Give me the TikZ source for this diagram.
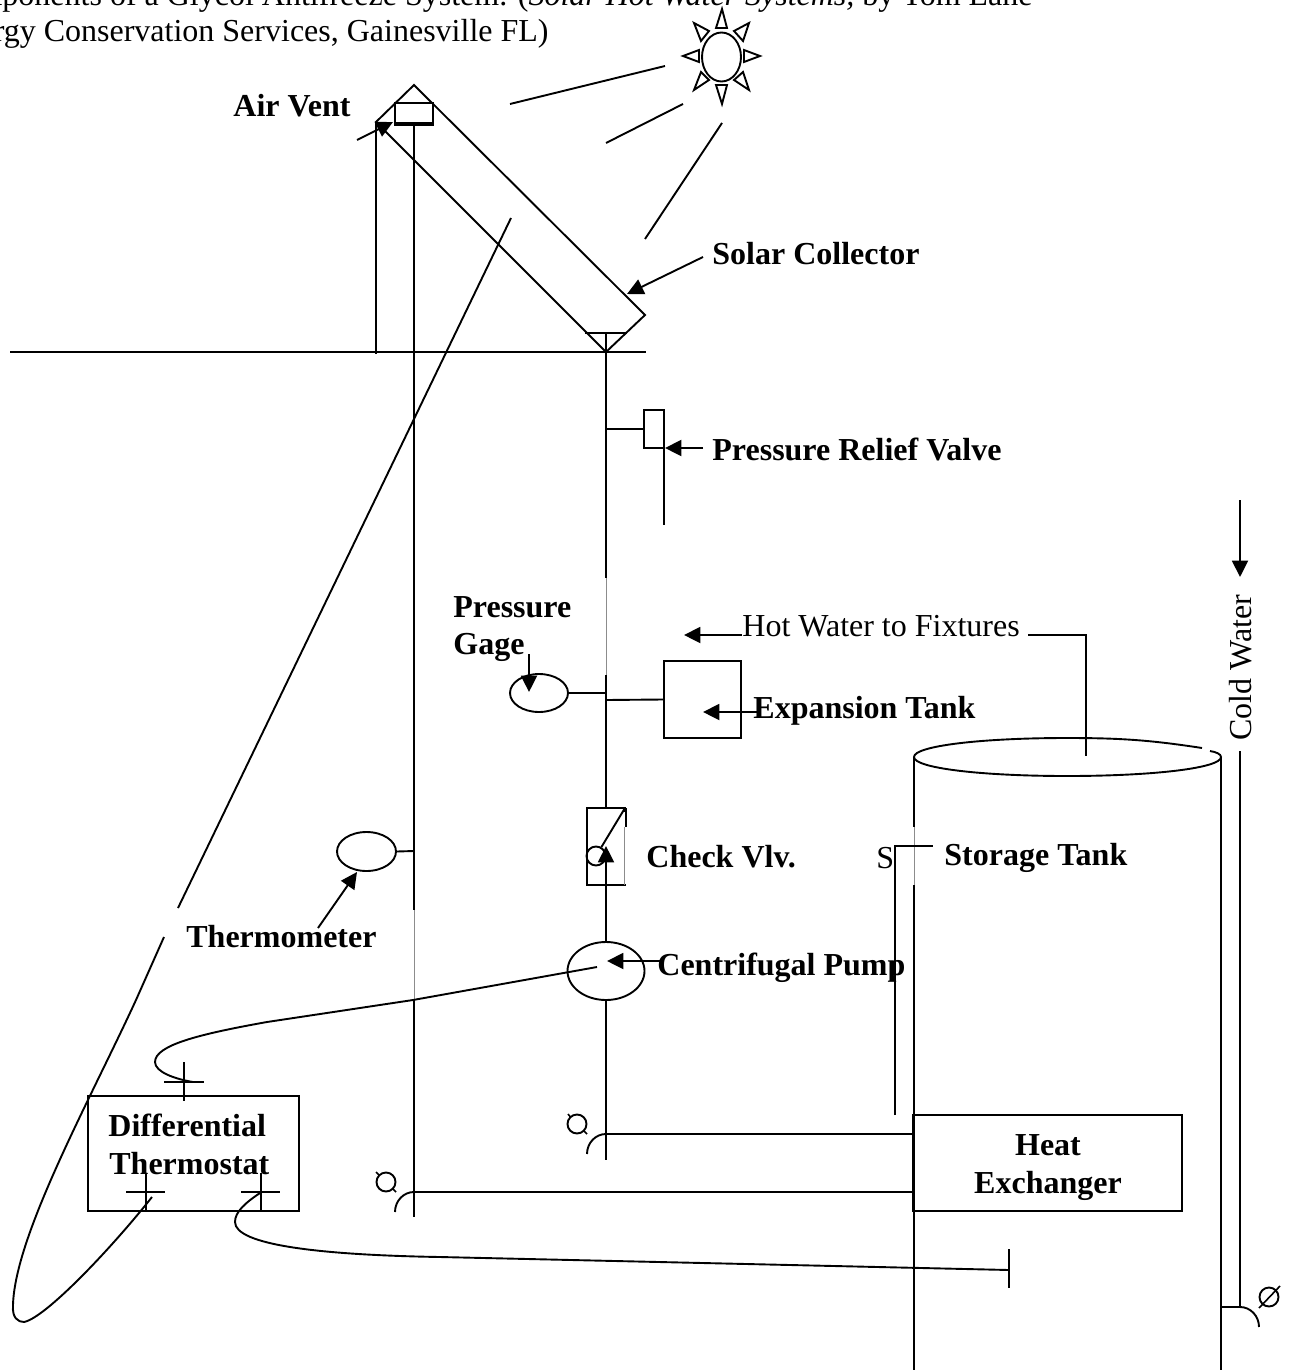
\documentclass[tikz,border=0pt]{standalone}
\usepackage{fontspec}
\setmainfont{Liberation Serif}
\usetikzlibrary{arrows.meta,shapes.geometric,calc}
\tikzset{
  wire/.style={line width=0.95pt,line cap=butt},
  faint/.style={line width=0.4pt,draw=black!45},
  ptr/.style={wire,-{Triangle[length=8.2pt,width=8pt]}},
  lbl/.style={font=\fontsize{16}{18}\selectfont\bfseries,anchor=base west,inner sep=0pt},
  plain/.style={font=\fontsize{16}{18}\selectfont,anchor=base west,inner sep=0pt},
  boxed/.style={draw,line width=1.1pt,rectangle,inner sep=0pt},
  oval/.style={draw,line width=0.95pt,ellipse,inner sep=0pt},
  ray/.style={draw,line width=0.95pt,line join=miter},
  ring/.style={draw,line width=0.95pt,circle,inner sep=0pt,minimum size=9.5pt},
}
\begin{document}
\begin{tikzpicture}[x=0.5pt,y=-0.5pt]
\path[use as bounding box,fill=white] (0,0) rectangle (1290,1370);
\clip (0,0) rectangle (1290,1370);

% caption, cut off by the page
\node[plain,anchor=base east] (capa) at (1033,6) {Components of a Glycol Antifreeze System. (\textit{Solar Hot Water Systems,} by Tom Lane};
\node[plain,anchor=base east] (capb) at (549,42) {Energy Conservation Services, Gainesville FL)};

% sun
\node[oval,minimum width=19.5pt,minimum height=24.5pt] (sun) at (721.5,57) {};
\draw[ray] (722,9) -- (716,28) -- (727,28) -- cycle;
\draw[ray] (722,104) -- (716,85) -- (727,85) -- cycle;
\draw[ray] (683,56) -- (699,50) -- (699,62) -- cycle;
\draw[ray] (760,56) -- (744,50) -- (744,62) -- cycle;
\draw[ray] (749,23) -- (734,31) -- (743,41) -- cycle;
\draw[ray] (694,23) -- (709,31) -- (701,41) -- cycle;
\draw[ray] (749,90) -- (734,80) -- (743,72) -- cycle;
\draw[ray] (694,90) -- (709,80) -- (701,72) -- cycle;
\draw[wire] (510,104) -- (665,66);
\draw[wire] (606,143) -- (683,104);
\draw[wire] (722,123) -- (645,239);

% ground and collector
\draw[wire] (10,352) -- (646,352);
\coordinate (apex) at (414,85);
\coordinate (colL) at (376,122);
\coordinate (colB) at (606,352);
\coordinate (colR) at (645,315);
\draw[wire,line join=miter] (colL) -- (apex) -- (colR) -- (colB) -- cycle;
\draw[wire] (colL) -- (376,354);
\draw[wire] (585,333) -- (627,333);
\draw[wire] (606,333) -- (colB);
\node[boxed,fill=white,minimum width=19pt,minimum height=10pt] (vent) at (414,113) {};
\draw[wire,line width=1.5pt] (vent.south west) -- (vent.south east);

% left riser
\draw[wire] (vent.south) -- (414,910);
\draw[faint] (414,910) -- (414,1000);
\draw[wire] (414,1000) -- (414,1217);

% main line
\draw[wire] (colB) -- (606,578);
\draw[faint] (606,578) -- (606,675);
\draw[wire] (606,675) -- (606,808);
\draw[wire] (606,885) -- (606,942);
\draw[wire] (606,1000) -- (606,1160);

% pressure relief valve
\draw[wire,line width=1.1pt] (664,429) -- (664,410) -- (644,410) -- (644,448) -- (664,448);
\coordinate (prv) at (644,429);
\draw[wire] (606,429) -- (prv);
\draw[wire] (664,410) -- (664,525);
\node[lbl] (prvt) at (712,460) {Pressure Relief Valve};
\coordinate (prvtail) at (703,448);
\draw[ptr] (prvtail) -- (665,448);

% solar collector / air vent labels
\node[lbl] (airt) at (233,117) {Air Vent};
\draw[ptr] (357,140) -- (393,122);
\node[lbl] (solt) at (712,264) {Solar Collector};
\draw[ptr] (703,257) -- (627,294);

% pressure gage
\node[oval,minimum width=29pt,minimum height=19pt] (gage) at (539,693) {};
\draw[wire] (gage.east) -- (606,693);
\node[lbl] (gagea) at (453,617) {Pressure};
\node[lbl] (gageb) at (453,654) {Gage};
\draw[ptr] (529,654) -- (529,692);

% expansion tank
\node[boxed,minimum size=38.5pt] (tank) at (702.5,699.5) {};
\draw[wire] (606,700) -- (tank.west);
\node[lbl] (tankt) at (753,718) {Expansion Tank};
\draw[ptr] (760,712) -- (703,712);

% hot water
\node[plain] (hot) at (742,636) {Hot Water to Fixtures};
\draw[ptr] (742,635) -- (684,635);
\draw[wire] (1028,635) -- (1086,635) -- (1086,756);

% check valve
\draw[wire,line width=1.1pt] (587,808) rectangle (625,885);
\draw[draw=white,line width=1.2pt] (625,812) -- (625,884);
\draw[faint] (624,827) -- (624,885);
\draw[wire] (626,808) -- (626,827);
\node[ring] (flap) at (596,856) {};
\draw[wire] (625,808) -- (flap);
\node[lbl] (chk) at (646,867) {Check Vlv.};
\draw[ptr] (606,885) -- (606,846);

% pump
\node[oval,minimum width=38.5pt,minimum height=29pt] (pump) at (606,971) {};
\node[lbl] (pumpt) at (657,975) {Centrifugal Pump};
\draw[ptr] (660,961) -- (607,961);

% thermometer
\node[oval,minimum width=29.5pt,minimum height=19.5pt] (therm) at (366.5,851.5) {};
\draw[wire] (therm.east) -- (414,851);
\node[lbl] (thermt) at (186,947) {Thermometer};
\draw[ptr] (318,928) -- (357,872);

% storage tank
\draw[wire] (1202,748) .. controls (1150,740) and (1120,738) .. (1067,738)
  .. controls (980,738) and (914,746) .. (914,757)
  .. controls (914,768) and (980,776) .. (1067,776)
  .. controls (1154,776) and (1221,768) .. (1221,757)
  .. controls (1221,754) and (1216,752) .. (1210,751);
\draw[wire] (914,757) -- (914,827);
\draw[faint] (914,827) -- (914,885);
\draw[wire] (914,885) -- (914,1370);
\draw[wire] (1221,757) -- (1221,1370);
\draw[wire] (895,1115) -- (895,846) -- (933,846);
\node[plain] (s) at (876,868) {S};
\node[lbl] (stor) at (944,865) {Storage Tank};

% heat exchanger
\node[boxed,minimum width=134pt,minimum height=48pt,fill=white] (hx) at (1048,1163) {};
\node[lbl,anchor=base] (hxa) at (1048,1155) {Heat};
\node[lbl,anchor=base] (hxb) at (1048,1193) {Exchanger};
\draw[wire] (hx.north west) -- (hx.south west);
\coordinate (hxu) at (914,1134);
\coordinate (hxl) at (914,1192);
\draw[wire] (hxu) -- (606,1134) arc[start angle=90,end angle=180,x radius=19,y radius=-20];
\draw[wire] (hxl) -- (414,1192) arc[start angle=90,end angle=180,x radius=19,y radius=-20];
\node[ring] (qa) at (577,1124) {};
\node[ring] (qb) at (386,1182) {};
\draw[line width=0.8pt] (568,1114) -- (570.5,1117) (584,1131) -- (587,1134);
\draw[line width=0.8pt] (376,1172) -- (379,1175) (393,1189) -- (396,1192);

% cold water
\draw[ptr] (1240,500) -- (1240,577);
\node[plain,rotate=90] (cold) at (1251,741) {Cold Water};
\draw[wire] (1240,751) -- (1240,1307);
\draw[wire] (1221,1307) -- (1240,1307) arc[start angle=90,end angle=0,x radius=19,y radius=-20];
\node[ring] (qc) at (1269,1297) {};
\draw[line width=0.8pt] (1259,1308) -- (1280,1286);

% differential thermostat
\node[boxed,minimum width=105.5pt,minimum height=57.5pt] (dt) at (193.5,1153.5) {};
\node[lbl] (dta) at (108,1136) {Differential};
\node[lbl] (dtb) at (109,1174) {Thermostat};
\draw[wire] (164,1082) -- (204,1082) (184,1062) -- (184,1101);
\draw[wire] (126,1192) -- (165,1192) (146,1173) -- (146,1211);
\draw[wire] (241,1192) -- (280,1192) (261,1173) -- (261,1211);
\coordinate (termA) at (193,1082);
\coordinate (termB) at (152,1197);
\coordinate (termC) at (260,1193);
\coordinate (bar) at (1009,1270);
\draw[wire] (1009,1249) -- (1009,1288);

% control wires
\draw[wire] (597,967) -- (413,1000) -- (267,1022) .. controls (200,1034) and (155,1045) .. (155,1062)
  .. controls (155,1072) and (175,1079) .. (termA);
\draw[wire] (termC) .. controls (245,1203) and (235,1212) .. (235,1222)
  .. controls (235,1245) and (320,1255) .. (440,1257) -- (bar);
\draw[wire] (511,218) -- (178,908);
\draw[wire] (164,937) -- (136,1000) .. controls (90,1100) and (15,1235) .. (13,1305)
  .. controls (12,1318) and (18,1322) .. (24,1322)
  .. controls (45,1318) and (110,1250) .. (termB);
\end{tikzpicture}
\end{document}
